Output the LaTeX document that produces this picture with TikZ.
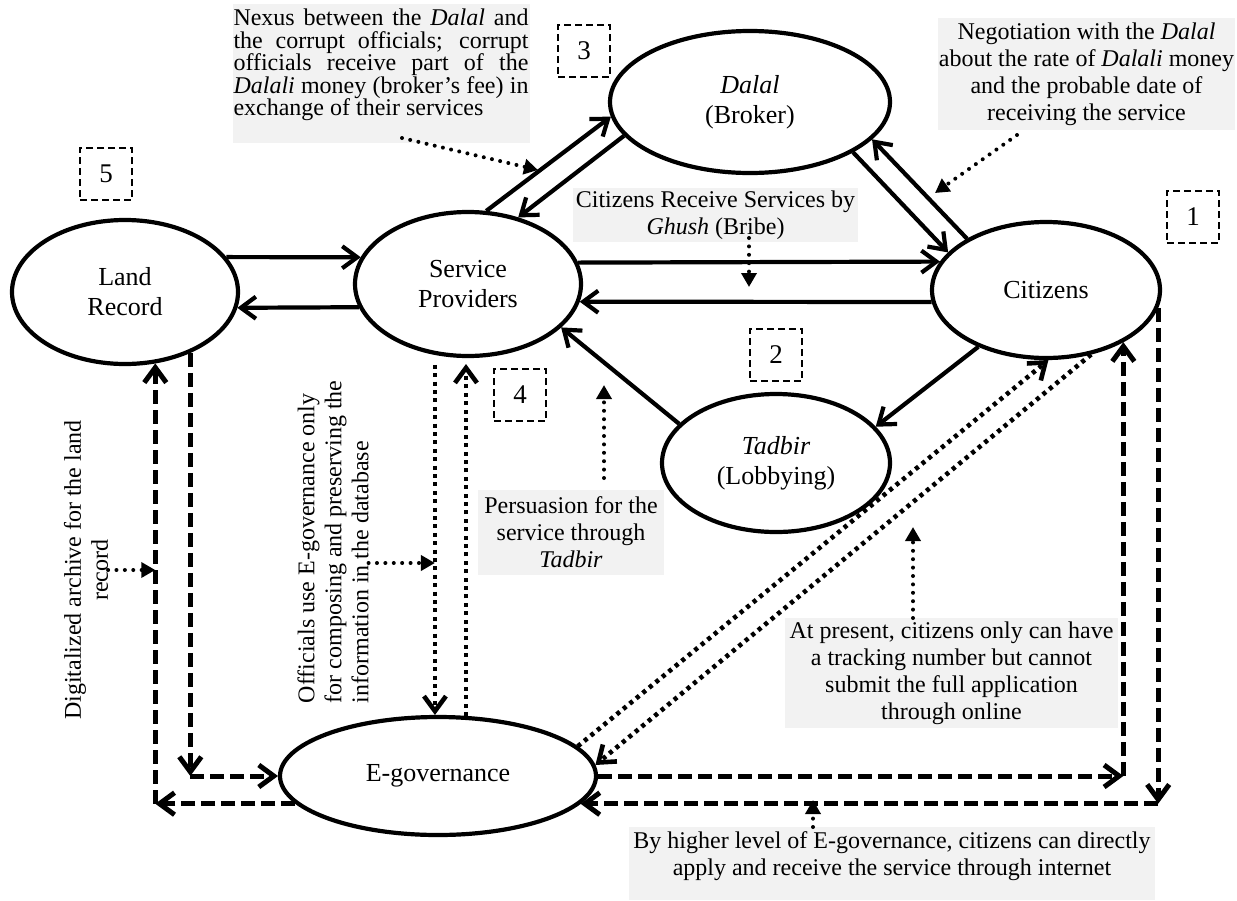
\documentclass[tikz,border=0pt]{standalone}
\usepackage{fontspec}
\setmainfont{Liberation Serif}
\usetikzlibrary{arrows.meta,shapes.geometric,calc}

\definecolor{notegray}{HTML}{F2F2F2}

\begin{document}
\begin{tikzpicture}[x=0.5pt,y=-0.5pt,
  every node/.style={inner sep=0pt,outer sep=0pt},
  openhead/.tip={Straight Barb[length=7.5pt,width=11pt]},
  fillhead/.tip={Triangle[length=7pt,width=7.5pt]},
  entity/.style={ellipse,draw,line width=2.1pt,outer sep=1pt,align=center,
    font=\fontsize{13}{15}\selectfont},
  tag/.style={draw,line width=0.8pt,dash pattern=on 3.5pt off 2pt,
    minimum size=26pt,font=\fontsize{13.5}{15}\selectfont},
  notebox/.style={fill=notegray},
  notetext/.style={align=center,font=\fontsize{12}{13.5}\selectfont},
  note/.style={notebox,notetext},
  flow/.style={line width=2.1pt,-openhead},
  eflow/.style={line width=2.5pt,dash pattern=on 7pt off 3pt,-openhead},
  dflow/.style={line width=2.3pt,dash pattern=on 2pt off 2.2pt,-openhead},
  pointer/.style={line width=2pt,dash pattern=on 0pt off 4.2pt,line cap=round,-fillhead}
]
\useasboundingbox (0,0) rectangle (1237,900);

% actors
\node[entity,minimum width=113pt,minimum height=72pt] (lr)    at (125,292)  {Land\\Record};
\node[entity,minimum width=113pt,minimum height=72pt] (sp)    at (468,284)  {Service\\Providers};
\node[entity,minimum width=140pt,minimum height=71pt] (dalal) at (750,102)  {\textit{Dalal}\\(Broker)};
\node[entity,minimum width=114pt,minimum height=68pt] (cit)   at (1046,290) {Citizens};
\node[entity,minimum width=114pt,minimum height=69pt] (tad)   at (776,463)  {\textit{Tadbir}\\(Lobbying)};
\node[entity,minimum width=158pt,minimum height=59pt] (eg)    at (438,776)  {E-governance};

% numbered tags
\node[tag] (t1) at (1193,217) {1};
\node[tag] (t2) at (776,355)  {2};
\node[tag] (t3) at (584,51)   {3};
\node[tag] (t4) at (520,395)  {4};
\node[tag] (t5) at (106,174)  {5};

% shaded notes
\node[notebox,minimum width=148.5pt,minimum height=69.5pt] (nexus) at (381.5,73.5) {};
\node[text width=147.5pt,align=justify,font=\fontsize{12}{11.25}\selectfont] (nexustext) at (381,65)
  {Nexus between the \textit{Dalal} and\linebreak
   the corrupt officials; corrupt\linebreak
   officials receive part of the\linebreak
   \textit{Dalali} money (broker's fee) in\linebreak
   exchange of their services};
\node[note,minimum width=148.5pt,minimum height=56pt] (nego) at (1086.5,74)
  {Negotiation with the \textit{Dalal}\\about the rate of \textit{Dalali} money\\and the probable date of\\receiving the service};
\node[note,minimum width=142.5pt,minimum height=27pt] (ghush) at (715.5,215)
  {Citizens Receive Services by\\\textit{Ghush} (Bribe)};
\node[note,minimum width=93pt,minimum height=42.5pt] (persuade) at (571,532.5)
  {Persuasion for the\\service through\\\textit{Tadbir}};
\node[note,minimum width=166.5pt,minimum height=55pt] (present) at (951.5,673)
  {At present, citizens only can have\\a tracking number but cannot\\submit the full application\\through online};
\node[notebox,minimum width=263pt,minimum height=36.5pt] (web) at (892,863.5) {};
\node[notetext] (webtext) at (892,856.5)
  {By higher level of E-governance, citizens can directly\\apply and receive the service through internet};

% rotated captions
\node[notetext,rotate=90] (archive) at (86,570)
  {Digitalized archive for the land\\record};
\node[notetext,rotate=90,align=left,anchor=west] (official) at (333,703)
  {Officials use E-governance only\\for composing and preserving the\\information in the database};

% present-day flows
\draw[flow] (lr.19) -- (sp.166);
\draw[flow] (sp.192) -- (lr.-8);
\draw[flow] (sp.11) -- (cit.165);
\draw[flow] (cit.186) -- (sp.-9);
\draw[flow] (sp.76) -- (dalal.186);
\draw[flow] (dalal.195) -- (sp.53);
\draw[flow] (dalal.-26) -- (cit.159);
\draw[flow] (cit.147) -- (dalal.-17);
\draw[flow] (cit.220) -- (tad.20);
\draw[flow] (tad.158) -- (sp.-25);

% e-governance links
\coordinate (lrdrop)  at (lr.-43 |- eg.west);
\coordinate (lrrise)  at (lr.-67 |- eg.191);
\coordinate (citrise) at (cit.-34 |- eg.east);
\coordinate (citdrop) at (cit.-9 |- eg.-11);
\draw[eflow] (lr.-43) -- (lrdrop);
\draw[eflow] (lrdrop) -- (eg.west);
\draw[eflow] (eg.191) -- (lrrise);
\draw[eflow] (lrrise) -- (lr.-67);
\draw[eflow] (eg.east) -- (citrise);
\draw[eflow] (citrise) -- (cit.-34);
\draw[eflow] (cit.-9) -- (citdrop);
\draw[eflow] (citdrop) -- (eg.-11);

\draw[dflow,shorten <=5pt] (sp.245) -- (sp.245 |- eg.north);
\draw[dflow,shorten >=3pt] (eg.65) -- (eg.65 |- sp.south);
\draw[dflow] (eg.12) -- (cit.-88);
\draw[dflow] (cit.-55) -- (eg.4);

% note pointers
\coordinate (nexustip)    at (538,170);
\coordinate (negotip)     at (935,193);
\coordinate (ghushtip)    at (749,287);
\coordinate (persuadetip) at (604,385);
\coordinate (presenttip)  at (913,527);
\coordinate (webtip)      at (813,800);
\draw[pointer] ([xshift=10.25pt,yshift=2.5pt]nexus.south) -- (nexustip);
\draw[pointer] ([xshift=-34.75pt,yshift=-2.5pt]nego.south) -- (negotip);
\draw[pointer] ([xshift=16.75pt,yshift=2pt]ghush.south) -- (ghushtip);
\draw[pointer] ([xshift=16.5pt,yshift=6pt]persuade.north) -- (persuadetip);
\draw[pointer] ([xshift=-19.25pt]present.north) -- (presenttip);
\draw[pointer] ([xshift=-39.5pt]web.north) -- (webtip);
\draw[pointer] (official.south |- 0,563) -- (sp.245 |- 0,563);
\draw[pointer] (archive.south |- 0,570) -- (lr.-67 |- 0,570);
\end{tikzpicture}
\end{document}
